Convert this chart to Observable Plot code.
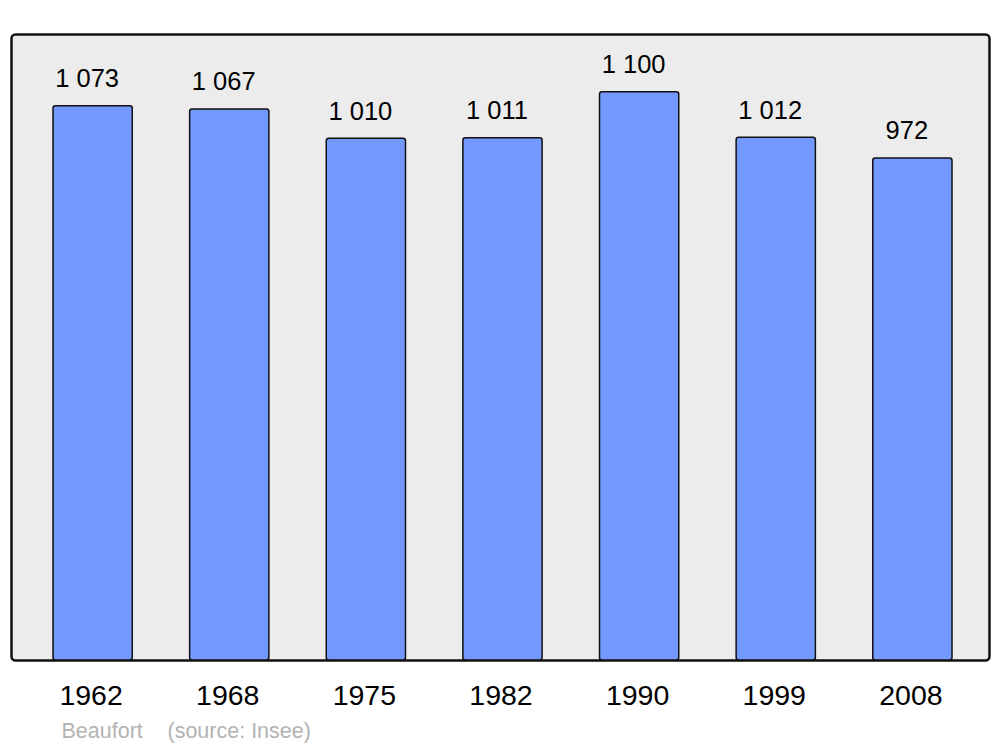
<!DOCTYPE html>
<html>
<head>
<meta charset="utf-8">
<script src="https://cdn.jsdelivr.net/npm/d3@7"></script>
<script src="https://cdn.jsdelivr.net/npm/@observablehq/plot@0.6"></script>
<style>
  html, body { margin: 0; padding: 0; background: #ffffff; }
  #chart svg { display: block; }
</style>
</head>
<body>
<div id="chart"></div>
<script>
const years = ["1962", "1968", "1975", "1982", "1990", "1999", "2008"];
const population = [1073, 1067, 1010, 1011, 1100, 1012, 972];
const commune = "Beaufort";
const source = "(source: Insee)";

const data = years.map((year, i) => ({year, value: population[i]}));
const fmt = d3.formatLocale({decimal: ",", thousands: " ", grouping: [3], currency: ["", ""]}).format(",d");
const font = "'Liberation Sans', Arial, sans-serif";

const chart = Plot.plot({
  width: 1000,
  height: 747,
  marginLeft: 11,
  marginRight: 11,
  marginTop: 34,
  marginBottom: 87,
  style: {fontFamily: font, background: "#ffffff"},
  x: {domain: years, range: [53, 952], paddingInner: 0.42, paddingOuter: 0, round: false, axis: null},
  y: {domain: [0, 1212], axis: null},
  marks: [
    Plot.frame({fill: "#ececec", stroke: "#111111", strokeWidth: 2.5, rx: 4}),
    Plot.barY(data, {x: "year", y: "value", fill: "#7399ff", stroke: "#111111", strokeWidth: 1.5, rx: 2.5}),
    Plot.text(data, {x: "year", y: "value", text: d => fmt(d.value), dy: -19, dx: -6, lineAnchor: "bottom", fontSize: 25.5, fill: "#000000"}),
    Plot.text(years, {x: d => d, frameAnchor: "bottom", dy: 44, dx: -2, lineAnchor: "bottom", fontSize: 28.5, fill: "#000000"}),
    Plot.text([commune], {frameAnchor: "bottom-left", dx: 50, dy: 77, lineAnchor: "bottom", textAnchor: "start", fontSize: 21.5, fill: "#b3b3b3"}),
    Plot.text([source], {frameAnchor: "bottom-left", dx: 156, dy: 77, lineAnchor: "bottom", textAnchor: "start", fontSize: 21.5, fill: "#b3b3b3"})
  ]
});
document.getElementById("chart").appendChild(chart);
</script>
</body>
</html>
